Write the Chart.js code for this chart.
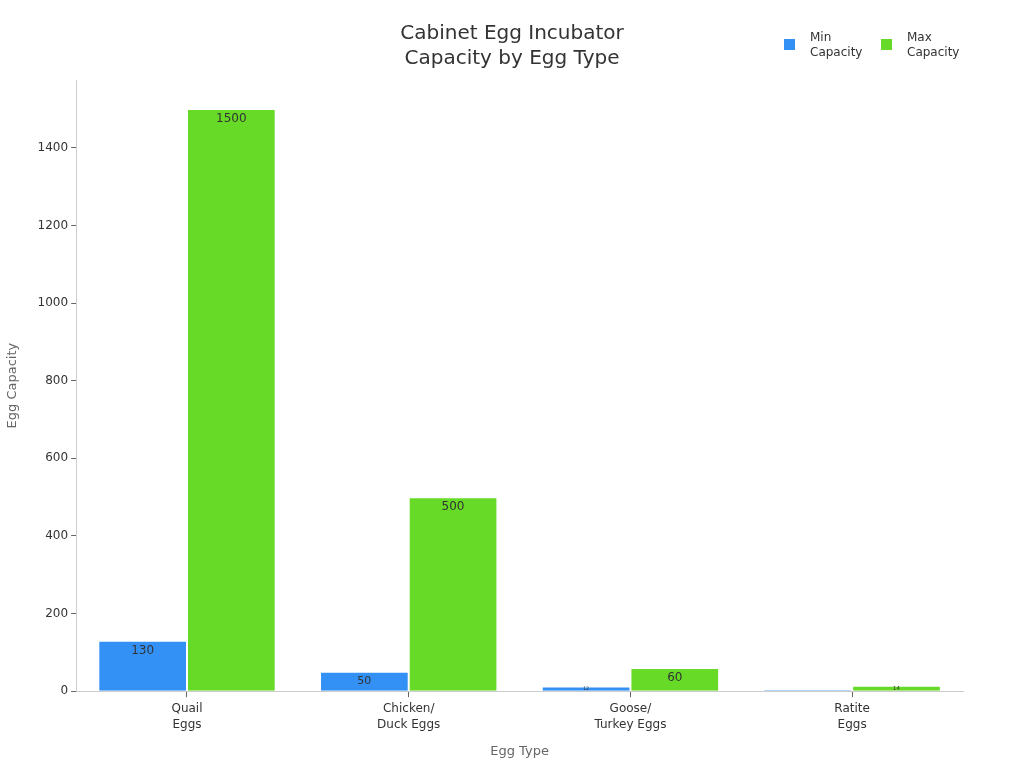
<!doctype html>
<html lang="en">
  <head>
    <meta charset="UTF-8" />
    <title>Cabinet Egg Incubator Capacity by Egg Type</title>
    <style>
      html, body { margin: 0; padding: 0; background: #fff; }
      #wrap { width: 1024px; height: 768px; }
    </style>
  </head>
  <body>
    <div id="wrap"><canvas id="chart"></canvas></div>

    <script src="https://cdn.jsdelivr.net/npm/chart.js@4"></script>
    <script>
      const categories = [
        ['Quail', 'Eggs'],
        ['Chicken/', 'Duck Eggs'],
        ['Goose/', 'Turkey Eggs'],
        ['Ratite', 'Eggs'],
      ]
      const minCapacity = [130, 50, 12, 3]
      const maxCapacity = [1500, 500, 60, 14]
      const yTicks = [0, 200, 400, 600, 800, 1000, 1200, 1400]
      const seriesNames = [['Min', 'Capacity'], ['Max', 'Capacity']]
      const titleLines = ['Cabinet Egg Incubator', 'Capacity by Egg Type']
      const COLORS = ['#3391f6', '#66da26']
      const FONT = "'DejaVu Sans', sans-serif"

      // value labels just under the top of each bar, shrinking for short bars
      const barLabels = {
        id: 'barLabels',
        afterDatasetsDraw(chart) {
          const ctx = chart.ctx
          ctx.save()
          ctx.fillStyle = '#333'
          ctx.textAlign = 'center'
          ctx.textBaseline = 'middle'
          chart.data.datasets.forEach((ds, i) => {
            chart.getDatasetMeta(i).data.forEach((bar, j) => {
              const h = bar.base - bar.y
              const size = h >= 20 ? 12 : Math.min(11, h + 0.5)
              if (size < 1.5) return
              ctx.font = `${size}px ${FONT}`
              const y = h > 20 ? bar.y + 10 : bar.y + h / 2
              ctx.fillText(String(ds.data[j]), bar.x, y)
            })
          })
          ctx.restore()
        },
      }

      // page-centred title and top-right legend with two-line labels
      const header = {
        id: 'header',
        afterDraw(chart) {
          const ctx = chart.ctx
          ctx.save()
          ctx.fillStyle = '#333'
          ctx.textAlign = 'center'
          ctx.textBaseline = 'middle'
          ctx.font = `20px ${FONT}`
          titleLines.forEach((line, k) => ctx.fillText(line, 512, 34 + k * 25))

          const xs = [784, 881]
          ctx.font = `12px ${FONT}`
          ctx.textAlign = 'left'
          chart.data.datasets.forEach((ds, i) => {
            ctx.fillStyle = ds.backgroundColor
            ctx.fillRect(xs[i], 39, 11, 11)
            ctx.fillStyle = '#333'
            seriesNames[i].forEach((line, k) => {
              ctx.fillText(line, xs[i] + 26, 38 + k * 15)
            })
          })
          ctx.restore()
        },
      }

      new Chart(document.getElementById('chart'), {
        type: 'bar',
        data: {
          labels: categories,
          datasets: [
            {
              label: 'Min Capacity',
              data: minCapacity,
              backgroundColor: COLORS[0],
              borderColor: 'rgba(255,255,255,0.5)',
              borderWidth: 1,
            },
            {
              label: 'Max Capacity',
              data: maxCapacity,
              backgroundColor: COLORS[1],
              borderColor: 'rgba(255,255,255,0.5)',
              borderWidth: 1,
            },
          ],
        },
        options: {
          responsive: true,
          maintainAspectRatio: false,
          animation: false,
          layout: { padding: { left: 1, right: 61, bottom: 5, top: 80 } },
          datasets: { bar: { categoryPercentage: 0.8, barPercentage: 1 } },
          plugins: {
            legend: { display: false },
            tooltip: { enabled: false },
            title: { display: false },
          },
          scales: {
            x: {
              grid: {
                display: true,
                drawOnChartArea: false,
                drawTicks: true,
                tickLength: 6,
                offset: false,
                color: '#666',
              },
              border: { display: true, color: '#ccc' },
              ticks: {
                color: '#333',
                font: { family: FONT, size: 12, lineHeight: 1.3 },
                padding: 4,
              },
              title: {
                display: true,
                text: 'Egg Type',
                color: '#666',
                font: { family: FONT, size: 13 },
                padding: { top: 7 },
              },
            },
            y: {
              min: 0,
              max: 1575,
              afterBuildTicks: (axis) => {
                axis.ticks = yTicks.map((v) => ({ value: v }))
              },
              grid: {
                display: true,
                drawOnChartArea: false,
                drawTicks: true,
                tickLength: 5,
                color: '#666',
              },
              border: { display: true, color: '#ccc' },
              ticks: {
                color: '#333',
                font: { family: FONT, size: 12 },
                padding: 3,
                callback: (v) => String(v),
              },
              title: {
                display: true,
                text: 'Egg Capacity',
                color: '#666',
                font: { family: FONT, size: 13 },
                padding: { bottom: 14 },
              },
            },
          },
        },
        plugins: [barLabels, header],
      })
    </script>
  </body>
</html>
